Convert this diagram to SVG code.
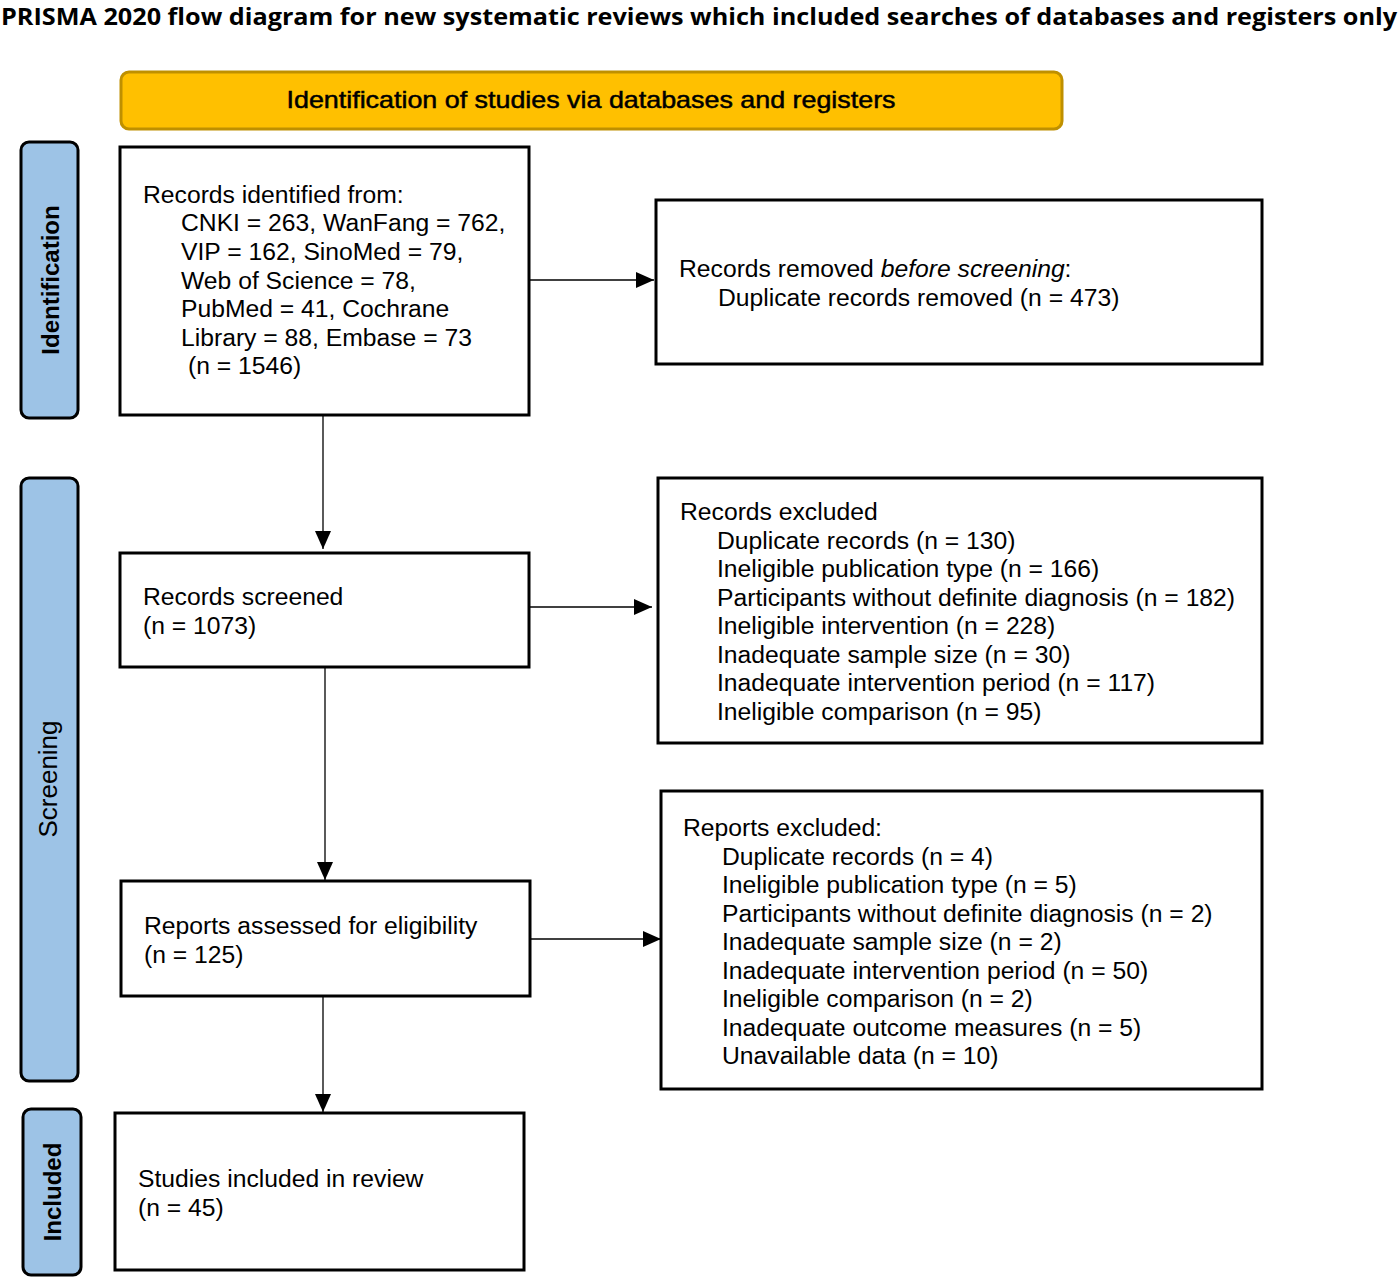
<svg xmlns="http://www.w3.org/2000/svg" width="1400" height="1279" viewBox="0 0 1400 1279">
<defs>
<style>
.t{font-family:"Liberation Sans",Arial,sans-serif;font-size:24.7px;fill:#000}
.box{fill:#fff;stroke:#000;stroke-width:3}
.side{fill:#9DC3E6;stroke:#000;stroke-width:3}
.sl{font-family:"Liberation Sans",Arial,sans-serif;font-size:24px;font-weight:bold;fill:#000;text-anchor:middle}
.c{stroke:#000;stroke-width:1.3;fill:none;marker-end:url(#ah)}
</style>
<marker id="ah" markerUnits="userSpaceOnUse" markerWidth="18" markerHeight="16" refX="18" refY="8" orient="auto">
<path d="M0,0 L18,8 L0,16 z" fill="#000"/>
</marker>
</defs>
<rect width="1400" height="1279" fill="#fff"/>
<text x="1" y="25" font-family="'Open Sans','Noto Sans',sans-serif" font-size="24" font-weight="bold" textLength="1396" lengthAdjust="spacingAndGlyphs">PRISMA 2020 flow diagram for new systematic reviews which included searches of databases and registers only</text>

<g id="header">
<rect x="121" y="72" width="941" height="57" rx="8" fill="#FFC000" stroke="#BF9000" stroke-width="3"/>
<text x="591" y="108" font-family="'Liberation Sans',Arial,sans-serif" font-size="24" text-anchor="middle" textLength="609" lengthAdjust="spacingAndGlyphs" stroke="#000" stroke-width="0.5">Identification of studies via databases and registers</text>
</g>

<g id="side-identification">
<rect class="side" x="21" y="142" width="57" height="276" rx="8"/>
<text class="sl" transform="translate(59,280) rotate(-90)">Identification</text>
</g>
<g id="side-screening">
<rect class="side" x="21" y="478" width="57" height="603" rx="8"/>
<text class="sl" transform="translate(57,779) rotate(-90)" style="font-weight:normal;font-size:26px">Screening</text>
</g>
<g id="side-included">
<rect class="side" x="23" y="1109" width="58" height="166" rx="8"/>
<text class="sl" transform="translate(61,1192) rotate(-90)">Included</text>
</g>

<g id="records-identified">
<rect class="box" x="120" y="147" width="409" height="268"/>
<text class="t" x="143" y="203">Records identified from:</text>
<text class="t" x="181" y="231">CNKI = 263, WanFang = 762,</text>
<text class="t" x="181" y="260">VIP = 162, SinoMed = 79,</text>
<text class="t" x="181" y="289">Web of Science = 78,</text>
<text class="t" x="181" y="317">PubMed = 41, Cochrane</text>
<text class="t" x="181" y="346">Library = 88, Embase = 73</text>
<text class="t" x="188" y="374">(n = 1546)</text>
</g>

<g id="records-removed">
<rect class="box" x="656" y="200" width="606" height="164"/>
<text class="t" x="679" y="277">Records removed <tspan font-style="italic">before screening</tspan>:</text>
<text class="t" x="718" y="306">Duplicate records removed (n = 473)</text>
</g>

<g id="records-screened">
<rect class="box" x="120" y="553" width="409" height="114"/>
<text class="t" x="143" y="605">Records screened</text>
<text class="t" x="143" y="634">(n = 1073)</text>
</g>

<g id="records-excluded">
<rect class="box" x="658" y="478" width="604" height="265"/>
<text class="t" x="680" y="520">Records excluded</text>
<text class="t" x="717" y="549">Duplicate records (n = 130)</text>
<text class="t" x="717" y="577">Ineligible publication type (n = 166)</text>
<text class="t" x="717" y="606">Participants without definite diagnosis (n = 182)</text>
<text class="t" x="717" y="634">Ineligible intervention (n = 228)</text>
<text class="t" x="717" y="663">Inadequate sample size (n = 30)</text>
<text class="t" x="717" y="691">Inadequate intervention period (n = 117)</text>
<text class="t" x="717" y="720">Ineligible comparison (n = 95)</text>
</g>

<g id="reports-assessed">
<rect class="box" x="121" y="881" width="409" height="115"/>
<text class="t" x="144" y="934">Reports assessed for eligibility</text>
<text class="t" x="144" y="963">(n = 125)</text>
</g>

<g id="reports-excluded">
<rect class="box" x="661" y="791" width="601" height="298"/>
<text class="t" x="683" y="836">Reports excluded:</text>
<text class="t" x="722" y="865">Duplicate records (n = 4)</text>
<text class="t" x="722" y="893">Ineligible publication type (n = 5)</text>
<text class="t" x="722" y="922">Participants without definite diagnosis (n = 2)</text>
<text class="t" x="722" y="950">Inadequate sample size (n = 2)</text>
<text class="t" x="722" y="979">Inadequate intervention period (n = 50)</text>
<text class="t" x="722" y="1007">Ineligible comparison (n = 2)</text>
<text class="t" x="722" y="1036">Inadequate outcome measures (n = 5)</text>
<text class="t" x="722" y="1064">Unavailable data (n = 10)</text>
</g>

<g id="studies-included">
<rect class="box" x="115" y="1113" width="409" height="157"/>
<text class="t" x="138" y="1187">Studies included in review</text>
<text class="t" x="138" y="1216">(n = 45)</text>
</g>

<g id="connectors">
<line class="c" x1="530" y1="280" x2="654" y2="280"/>
<line class="c" x1="323" y1="416" x2="323" y2="549"/>
<line class="c" x1="530" y1="607" x2="652" y2="607"/>
<line class="c" x1="325" y1="668" x2="325" y2="880"/>
<line class="c" x1="531" y1="939" x2="661" y2="939"/>
<line class="c" x1="323" y1="997" x2="323" y2="1112"/>
</g>
</svg>
